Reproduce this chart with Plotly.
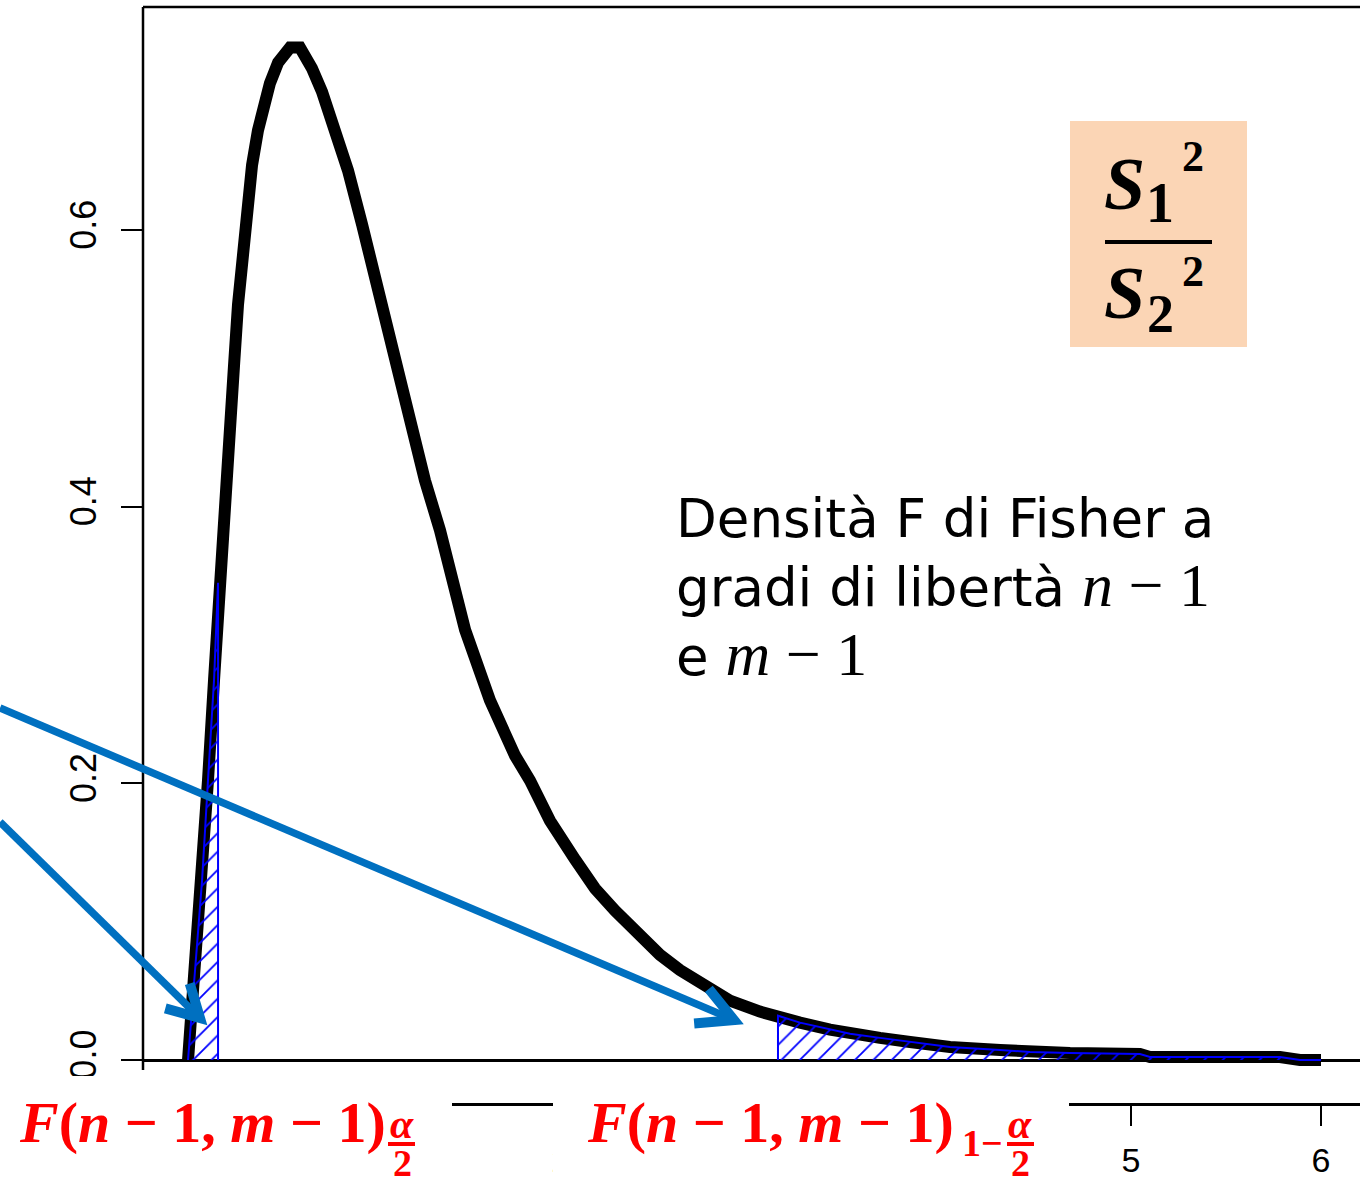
import numpy as np
import plotly.graph_objects as go

# ---------------- data ----------------
curve_x = [0.037, 0.053, 0.079, 0.111, 0.142, 0.174, 0.200, 0.226, 0.253, 0.279,
           0.300, 0.321, 0.347, 0.374, 0.405, 0.437, 0.468, 0.511, 0.547, 0.574,
           0.626, 0.689, 0.742, 0.811, 0.879, 0.953, 1.047, 1.179, 1.284, 1.363,
           1.495, 1.626, 1.758, 1.837, 1.942, 2.074, 2.179, 2.284, 2.416, 2.521,
           2.626, 2.758, 2.889, 3.047, 3.142, 3.258, 3.416, 3.521, 3.679, 3.837,
           4.047, 4.311, 4.468, 4.679, 5.047, 5.100, 5.363, 5.784, 5.889, 6.000]
curve_y = [0.000, 0.029, 0.072, 0.130, 0.202, 0.275, 0.340, 0.398, 0.452, 0.502,
           0.546, 0.582, 0.618, 0.647, 0.672, 0.690, 0.706, 0.721, 0.729, 0.732,
           0.732, 0.717, 0.700, 0.672, 0.643, 0.604, 0.549, 0.477, 0.419, 0.383,
           0.311, 0.260, 0.220, 0.202, 0.173, 0.145, 0.124, 0.108, 0.090, 0.076,
           0.065, 0.054, 0.043, 0.035, 0.031, 0.027, 0.022, 0.019, 0.016, 0.013,
           0.0094, 0.0072, 0.0058, 0.0051, 0.0043, 0.0022, 0.0022, 0.0022, 0.000, 0.000]

lower_cut_x = 0.195
lower_cut_y = 0.345
upper_cut_x = 3.142
upper_cut_y = 0.032

y_tick_vals = [0.0, 0.2, 0.4, 0.6]
y_tick_text = ["0.0", "0.2", "0.4", "0.6"]
x_tick_vals = [0, 1, 2, 3, 4, 5, 6]
x_tick_text = ["0", "1", "2", "3", "4", "5", "6"]

density_label = ("Densità F di Fisher a<br>gradi di libertà "
                 "<span style='font-family:Liberation Serif;font-size:62px'><i>n</i> − 1</span><br>"
                 "e <span style='font-family:Liberation Serif;font-size:62px'><i>m</i> − 1</span>")
quantile_main = "<b><i>F</i>(<i>n</i> − 1, <i>m</i> − 1)</b>"

# ---------------- figure geometry ----------------
W, H = 1360, 1179
L_M, R_M, T_M, B_M = 143, 0, 7, 76
PW = W - L_M - R_M
PH = H - T_M - B_M


def pxx(px):
    return (px - L_M) / PW


def pxy(py):
    return (H - B_M - py) / PH


fig = go.Figure()

# density curve
fig.add_trace(go.Scatter(x=curve_x, y=curve_y, mode="lines",
                         line=dict(color="black", width=12),
                         hoverinfo="skip", showlegend=False))

# tail regions
cx = np.array(curve_x)
cy = np.array(curve_y)
mask_l = cx <= lower_cut_x
lx = list(cx[mask_l]) + [lower_cut_x, lower_cut_x]
ly = list(cy[mask_l]) + [lower_cut_y, 0.0]
mask_u = cx > upper_cut_x
ux = [upper_cut_x, upper_cut_x] + list(cx[mask_u])
uy = [0.0, upper_cut_y] + list(cy[mask_u])

for xs, ys in ((lx, ly), (ux, uy)):
    fig.add_trace(go.Scatter(
        x=xs, y=ys, mode="lines", fill="toself",
        fillcolor="rgba(255,255,255,0)",
        fillpattern=dict(shape="/", fgcolor="#0000FF", fgopacity=1,
                         size=13, solidity=0.14),
        line=dict(color="#0000FF", width=2),
        hoverinfo="skip", showlegend=False))

shapes = []
# frame: left axis line and top border
shapes.append(dict(type="line", xref="paper", yref="paper",
                   x0=0, x1=0, y0=pxy(1070), y1=1,
                   line=dict(color="black", width=2.5)))
shapes.append(dict(type="line", xref="paper", yref="paper",
                   x0=0, x1=1, y0=1, y1=1,
                   line=dict(color="black", width=2.5)))

# white boxes behind the red labels
for a, b in ((0, 452), (553, 1069)):
    shapes.append(dict(type="rect", xref="paper", yref="paper",
                       x0=pxx(a), x1=pxx(b), y0=pxy(1185), y1=pxy(1076),
                       fillcolor="white", line=dict(width=0), layer="above"))

# peach box
shapes.append(dict(type="rect", xref="paper", yref="paper",
                   x0=pxx(1070), x1=pxx(1247), y0=pxy(347), y1=pxy(121),
                   fillcolor="#FBD5B5", line=dict(width=0), layer="above"))
# fraction bar in the peach box
shapes.append(dict(type="line", xref="paper", yref="paper",
                   x0=pxx(1105), x1=pxx(1212), y0=pxy(242), y1=pxy(242),
                   line=dict(color="black", width=4), layer="above"))
# fraction bars of the red labels
for a, b in ((388, 415), (1007, 1034)):
    shapes.append(dict(type="line", xref="paper", yref="paper",
                       x0=pxx(a), x1=pxx(b), y0=pxy(1144), y1=pxy(1144),
                       line=dict(color="#FF0000", width=4), layer="above"))

# blue arrows
ARROW = "#0070C0"


def arrow(start, tip, length, theta_deg):
    s = np.array(start, float)
    t = np.array(tip, float)
    d = (t - s) / np.linalg.norm(t - s)
    back = -d
    th = np.radians(theta_deg)
    out = []
    for sgn in (1, -1):
        c, sn = np.cos(sgn * th), np.sin(sgn * th)
        r = np.array([back[0] * c - back[1] * sn, back[0] * sn + back[1] * c])
        out.append(t + length * r)
    end = t - d * 4
    shapes.append(dict(type="line", xref="paper", yref="paper",
                       x0=pxx(s[0]), y0=pxy(s[1]), x1=pxx(end[0]), y1=pxy(end[1]),
                       line=dict(color=ARROW, width=7.5), layer="above"))
    b1, b2 = out
    path = (f"M {pxx(b1[0])},{pxy(b1[1])} L {pxx(t[0])},{pxy(t[1])} "
            f"L {pxx(b2[0])},{pxy(b2[1])}")
    shapes.append(dict(type="path", xref="paper", yref="paper", path=path,
                       line=dict(color=ARROW, width=10), layer="above"))


arrow((0, 708), (734, 1020), 40, 28)
arrow((0, 822), (200, 1018), 36, 29)

annotations = []


def txt(text, x, y, size, family="Liberation Serif", color="black",
        xanchor="center", yanchor="middle", align="center"):
    annotations.append(dict(text=text, x=pxx(x), y=pxy(y), xref="paper", yref="paper",
                            showarrow=False, xanchor=xanchor, yanchor=yanchor,
                            align=align,
                            font=dict(family=family, size=size, color=color)))


# description text
txt(density_label, 674, 588, 53, family="DejaVu Sans", xanchor="left", align="left")

# S1^2 / S2^2
txt("<b><i>S</i></b>", 1124, 184, 74)
txt("<b>1</b>", 1160, 203, 56)
txt("<b>2</b>", 1193, 156, 44)
txt("<b><i>S</i></b>", 1124, 293, 74)
txt("<b>2</b>", 1160, 314, 54)
txt("<b>2</b>", 1193, 272, 44)

# red quantile labels
RED = "#FF0000"
txt(quantile_main, 17, 1122, 58, color=RED, xanchor="left")
txt("<b><i>α</i></b>", 402, 1124, 42, color=RED)
txt("<b>2</b>", 402, 1163, 38, color=RED)
txt(quantile_main, 585, 1122, 58, color=RED, xanchor="left")
txt("<b>1−</b>", 982, 1143, 38, color=RED)
txt("<b><i>α</i></b>", 1020, 1124, 42, color=RED)
txt("<b>2</b>", 1020, 1163, 38, color=RED)

fig.update_layout(
    template="none",
    width=W, height=H, autosize=False,
    margin=dict(l=L_M, r=R_M, t=T_M, b=B_M, pad=0),
    paper_bgcolor="white", plot_bgcolor="white",
    showlegend=False,
    shapes=shapes, annotations=annotations,
    xaxis=dict(range=[(L_M - 181) / 190, (W - 181) / 190], automargin=False,
               tickmode="array", tickvals=x_tick_vals, ticktext=x_tick_text,
               ticks="outside", ticklen=20, tickwidth=2, tickcolor="black",
               showline=True, linecolor="black", linewidth=2.5,
               showgrid=False, zeroline=False, ticklabelstandoff=5,
               tickfont=dict(family="Liberation Sans", size=34, color="black")),
    yaxis=dict(range=[(1060 - (H - B_M)) / 1383.3, (1060 - T_M) / 1383.3],
               automargin=False,
               tickmode="array", tickvals=y_tick_vals, ticktext=y_tick_text,
               tickangle=-90,
               ticks="outside", ticklen=21, tickwidth=2, tickcolor="black",
               showline=False, showgrid=False,
               zeroline=True, zerolinecolor="black", zerolinewidth=2.5,
               ticklabelstandoff=11,
               tickfont=dict(family="Liberation Sans", size=36, color="black")),
)

fig.write_html("out.html",
               config={"responsive": False, "displayModeBar": False},
               post_script="document.body.style.margin='0px';"
                           "document.body.style.overflow='hidden';")
